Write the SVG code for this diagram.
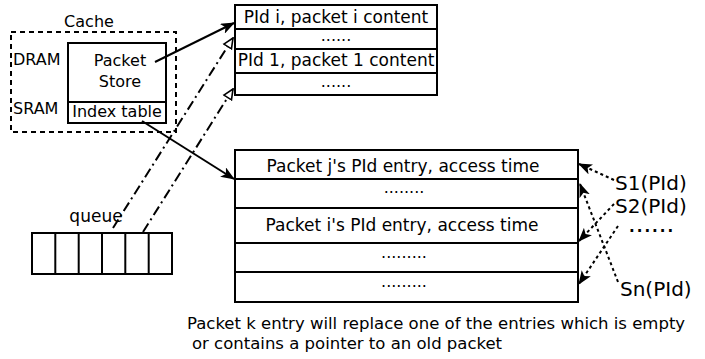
<svg xmlns="http://www.w3.org/2000/svg" width="705" height="359" viewBox="0 0 705 359">
<defs>
<style>
text{font-family:"DejaVu Sans",sans-serif;font-size:16px;fill:#000}
.t{font-size:17px}
.s{font-size:20px}
.box{fill:#fff;stroke:#000;stroke-width:2}
.c{text-anchor:middle}
.solid{fill:none;stroke:#000;stroke-width:2}
.dd{fill:none;stroke:#000;stroke-width:2;stroke-dasharray:10,4,2,4}
.dot{fill:none;stroke:#000;stroke-width:2;stroke-dasharray:3,3}
</style>
<marker id="ah" viewBox="0 0 14 11" refX="13" refY="5.5" markerWidth="14" markerHeight="11" markerUnits="userSpaceOnUse" orient="auto">
<path d="M0,0 L14,5.5 L0,11 L3.5,5.5 z" fill="#000"/>
</marker>
<marker id="oh" viewBox="0 0 12 12" refX="11" refY="6" markerWidth="12" markerHeight="12" markerUnits="userSpaceOnUse" orient="auto">
<path d="M1,1.5 L11,6 L1,10.5 z" fill="#fff" stroke="#000" stroke-width="1.6"/>
</marker>
</defs>
<rect width="705" height="359" fill="#fff"/>

<g id="cache">
<rect x="11" y="32" width="165" height="100" fill="none" stroke="#000" stroke-width="2" stroke-dasharray="5,4"/>
<text x="89" y="27" class="c">Cache</text>
<text x="13" y="65">DRAM</text>
<text x="13" y="114">SRAM</text>
</g>

<g id="packet-store">
<rect x="68" y="43" width="98" height="80" class="box"/>
<line x1="68" y1="102" x2="166" y2="102" stroke="#000" stroke-width="2"/>
<text x="120" y="66" class="c">Packet</text>
<text x="120" y="87" class="c">Store</text>
<text x="117" y="117" class="c">Index table</text>
</g>

<g id="content-table">
<rect x="235" y="5" width="202" height="24" class="box"/>
<rect x="235" y="29" width="202" height="20" class="box"/>
<rect x="235" y="49" width="202" height="24" class="box"/>
<rect x="235" y="73" width="202" height="22" class="box"/>
<text x="336" y="23" class="c t">PId i, packet i content</text>
<text x="336" y="41" class="c">......</text>
<text x="336" y="66" class="c t">PId 1, packet 1 content</text>
<text x="336" y="87" class="c">......</text>
</g>

<g id="pid-table">
<rect x="235" y="150" width="343" height="29" class="box"/>
<rect x="235" y="179" width="343" height="29" class="box"/>
<rect x="235" y="208" width="343" height="35" class="box"/>
<rect x="235" y="243" width="343" height="29" class="box"/>
<rect x="235" y="272" width="343" height="30" class="box"/>
<text x="403" y="172" class="c t">Packet j's PId entry, access time</text>
<text x="404" y="193" class="c">........</text>
<text x="402" y="231" class="c t">Packet i's PId entry, access time</text>
<text x="404" y="258" class="c">.........</text>
<text x="404" y="287" class="c">.........</text>
</g>

<g id="queue">
<text x="96" y="222" class="c t">queue</text>
<rect x="32" y="233" width="140" height="41" class="box"/>
<line x1="55.3" y1="233" x2="55.3" y2="274" stroke="#000" stroke-width="2"/>
<line x1="78.7" y1="233" x2="78.7" y2="274" stroke="#000" stroke-width="2"/>
<line x1="102" y1="233" x2="102" y2="274" stroke="#000" stroke-width="2"/>
<line x1="125.3" y1="233" x2="125.3" y2="274" stroke="#000" stroke-width="2"/>
<line x1="148.7" y1="233" x2="148.7" y2="274" stroke="#000" stroke-width="2"/>
</g>

<g id="sources">
<text x="615" y="190" class="s">S1(PId)</text>
<text x="615" y="213" class="s">S2(PId)</text>
<text x="629" y="232" style="font-size:15px;font-weight:bold;letter-spacing:2px">......</text>
<text x="620" y="296" class="s">Sn(PId)</text>
</g>

<g id="note">
<text x="187" y="329" style="font-size:16.5px">Packet k entry will replace one of the entries which is empty</text>
<text x="192" y="349" style="font-size:16.5px">or contains a pointer to an old packet</text>
</g>

<g id="connectors">
<line x1="155" y1="62" x2="234" y2="23" class="solid" marker-end="url(#ah)"/>
<line x1="142" y1="121" x2="234" y2="179" class="solid" marker-end="url(#ah)"/>
<line x1="113" y1="228" x2="233" y2="38" class="dd" marker-end="url(#oh)"/>
<line x1="143" y1="232" x2="233" y2="89" class="dd" marker-end="url(#oh)"/>
<line x1="614" y1="180" x2="579" y2="164" class="dot" marker-end="url(#ah)"/>
<line x1="614" y1="204" x2="579" y2="241" class="dot" marker-end="url(#ah)"/>
<line x1="618" y1="226" x2="579" y2="284" class="dot" marker-end="url(#ah)"/>
<line x1="618" y1="282" x2="580" y2="184" class="dot" marker-end="url(#ah)"/>
</g>
</svg>
